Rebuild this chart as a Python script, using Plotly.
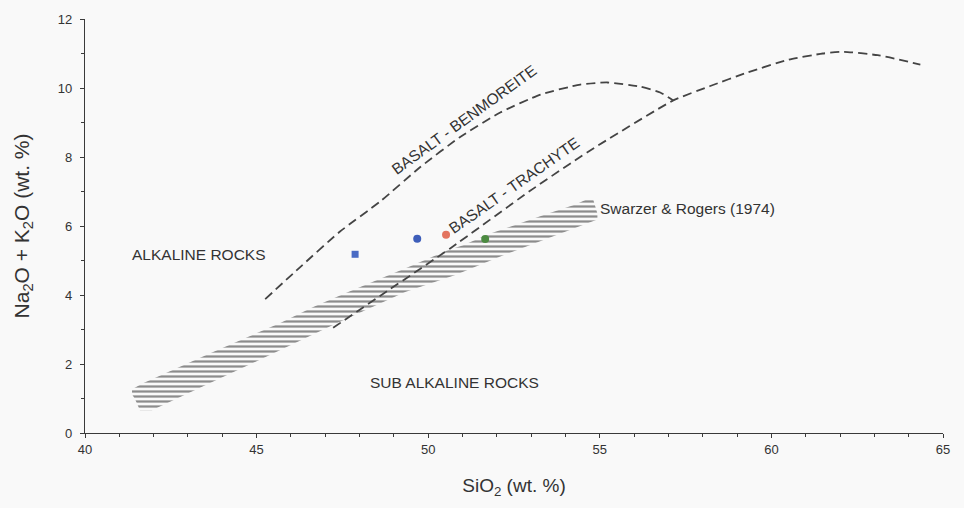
import plotly.graph_objects as go

# ---- data (SiO2 wt.% , Na2O+K2O wt.%) ----
# Basalt - Benmoreite boundary (dashed)
benm_sio2 = [45.25, 46.27, 47.43, 48.60, 49.77, 50.93, 52.10, 53.27, 54.43, 55.22, 56.18, 56.76, 57.14]
benm_alk = [3.88, 4.81, 5.84, 6.71, 7.71, 8.58, 9.29, 9.81, 10.10, 10.16, 10.04, 9.87, 9.64]

# Basalt - Trachyte boundary (dashed)
trach_sio2 = [47.23, 48.89, 50.64, 52.97, 54.64, 57.14, 58.20, 59.30, 60.50, 61.50, 62.10, 63.10, 64.34]
trach_alk = [3.05, 4.17, 5.35, 7.02, 8.14, 9.64, 10.05, 10.45, 10.82, 11.00, 11.05, 10.95, 10.68]

# Hatched alkaline / sub-alkaline band outline
band_sio2 = [41.60, 41.95, 45.54, 47.35, 49.33, 50.79, 52.19, 53.79, 54.93, 54.93, 54.81, 54.66,
             54.29, 53.41, 52.54, 51.75, 51.02, 50.55, 49.48, 48.40, 47.67, 46.65, 45.69, 43.70,
             42.04, 41.69, 41.37, 41.37, 41.46, 41.60]
band_alk = [0.66, 0.66, 2.33, 3.19, 4.09, 4.58, 5.15, 5.76, 6.19, 6.36, 6.76, 6.79,
            6.62, 6.33, 6.04, 5.76, 5.44, 5.29, 4.83, 4.40, 4.09, 3.65, 3.19, 2.33,
            1.58, 1.44, 1.27, 1.12, 0.98, 0.66]

# Samples
sample_sio2 = [47.87, 49.68, 50.52, 51.66]
sample_alk = [5.18, 5.63, 5.75, 5.62]
sample_symbol = ["square", "circle", "circle", "circle"]
sample_color = ["#4a6bc4", "#3e5eba", "#e3745f", "#4b8a40"]

# Axis ticks
x_ticks = [40, 45, 50, 55, 60, 65]
y_ticks = [0, 2, 4, 6, 8, 10, 12]

# Text labels
labels = [
    dict(text="ALKALINE ROCKS", x=43.32, y=5.18, angle=0, anchor="center"),
    dict(text="SUB ALKALINE ROCKS", x=50.76, y=1.47, angle=0, anchor="center"),
    dict(text="Swarzer &amp; Rogers (1974)", x=54.95, y=6.52, angle=0, anchor="left"),
    dict(text="BASALT - BENMOREITE", x=51.05, y=9.08, angle=-36, anchor="center"),
    dict(text="BASALT - TRACHYTE", x=52.50, y=7.16, angle=-35, anchor="center"),
]

FONT = "Liberation Sans, Arial, sans-serif"
INK = "#3a3a3a"

fig = go.Figure()

fig.add_trace(go.Scatter(
    x=band_sio2, y=band_alk, mode="lines", fill="toself",
    line=dict(width=0, color="rgba(0,0,0,0)"),
    fillcolor="rgba(0,0,0,0)",
    fillpattern=dict(shape="-", size=5, solidity=0.45, fgcolor="#1f1f1f",
                     bgcolor="rgba(0,0,0,0)", fillmode="overlay"),
    hoverinfo="skip", showlegend=False,
))

for xs, ys in [(benm_sio2, benm_alk), (trach_sio2, trach_alk)]:
    fig.add_trace(go.Scatter(
        x=xs, y=ys, mode="lines",
        line=dict(color="#444444", width=1.8, dash="9px,5px", shape="spline", smoothing=0.5),
        hoverinfo="skip", showlegend=False,
    ))

for sx, sy, sym, col in zip(sample_sio2, sample_alk, sample_symbol, sample_color):
    fig.add_trace(go.Scatter(
        x=[sx], y=[sy], mode="markers",
        marker=dict(symbol=sym, size=8 if sym == "circle" else 7, color=col, line=dict(width=0)),
        showlegend=False,
    ))

for lab in labels:
    fig.add_annotation(
        x=lab["x"], y=lab["y"], text=lab["text"], showarrow=False,
        textangle=lab["angle"], xanchor=lab["anchor"], yanchor="middle",
        font=dict(family=FONT, size=15.5, color="#333333"),
    )

fig.update_layout(
    width=964, height=508,
    margin=dict(l=85, r=21, t=16, b=75),
    paper_bgcolor="#f9f9f9", plot_bgcolor="#f9f9f9",
    font=dict(family=FONT, color="#333333"),
    xaxis=dict(
        range=[40, 65], tickvals=x_ticks, ticktext=[str(v) for v in x_ticks],
        showgrid=False, zeroline=False, showline=True, linecolor=INK, linewidth=1.3,
        ticks="outside", ticklen=4, tickcolor=INK, tickfont=dict(size=13, color="#333333"),
        minor=dict(ticks="outside", dtick=1, ticklen=3, tickcolor=INK, showgrid=False),
        title=dict(text="SiO<sub>2</sub> (wt. %)", font=dict(size=19, color="#333333"), standoff=22),
    ),
    yaxis=dict(
        range=[0, 12], tickvals=y_ticks, ticktext=[str(v) for v in y_ticks],
        showgrid=False, zeroline=False, showline=True, linecolor=INK, linewidth=1.3,
        ticks="outside", ticklen=4, tickcolor=INK, tickfont=dict(size=13, color="#333333"),
        ticklabelstandoff=5,
        minor=dict(ticks="outside", dtick=1, ticklen=3, tickcolor=INK, showgrid=False),
        title=dict(text="Na<sub>2</sub>O + K<sub>2</sub>O (wt. %)", font=dict(size=21, color="#333333"), standoff=22),
    ),
)

fig.write_html("out.html")
